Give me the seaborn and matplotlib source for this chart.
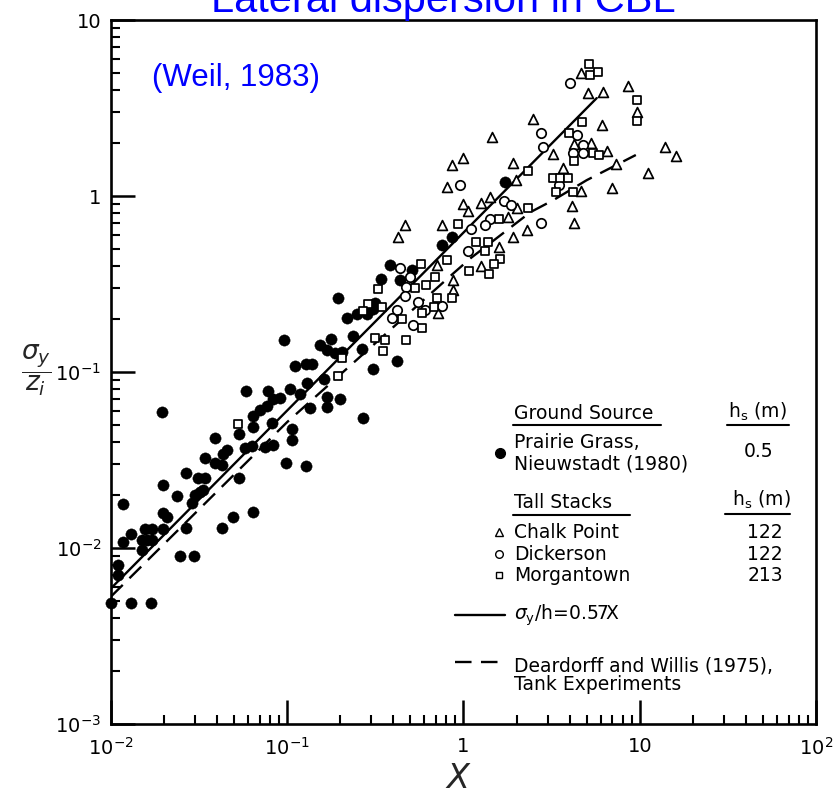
import matplotlib
matplotlib.use("Agg")
import matplotlib.pyplot as plt
import seaborn as sns
from matplotlib.lines import Line2D

# ---------------- data ----------------
# Prairie Grass, Nieuwstadt (1980) - filled dots
pg_x = [0.0100, 0.0130, 0.0169, 0.0110, 0.0110, 0.0117, 0.0130, 0.0150, 0.0150, 0.0160,
        0.0171, 0.0156, 0.0171, 0.0198, 0.0117, 0.0198, 0.0208, 0.0267, 0.0427, 0.0493,
        0.0641, 0.0247, 0.0296, 0.0198, 0.0237, 0.0300, 0.0320, 0.0333, 0.0289, 0.0267,
        0.0312, 0.0342, 0.0534, 0.0342, 0.0390, 0.0427, 0.0987, 0.128, 0.0390, 0.0456,
        0.0433, 0.0577, 0.0633, 0.0750, 0.0833, 0.0534, 0.0641, 0.0822, 0.107, 0.107,
        0.0195, 0.0585, 0.0780, 0.104, 0.118, 0.0770, 0.0833, 0.0913, 0.0703, 0.0641,
        0.130, 0.162, 0.169, 0.198, 0.135, 0.169, 0.270, 0.0961, 0.110, 0.127,
        0.139, 0.154, 0.176, 0.169, 0.187, 0.205, 0.237, 0.267, 0.308, 0.422,
        0.195, 0.219, 0.250, 0.285, 0.316, 0.308, 0.385, 0.513, 0.439, 0.342,
        0.760, 0.866, 1.73]
pg_y = [0.0049, 0.0049, 0.0049, 0.0080, 0.0070, 0.0108, 0.0120, 0.0097, 0.0111, 0.0111,
        0.0111, 0.0128, 0.0128, 0.0128, 0.0178, 0.0158, 0.0150, 0.0130, 0.0130, 0.0150,
        0.0160, 0.0090, 0.0090, 0.0228, 0.0198, 0.0200, 0.0208, 0.0214, 0.0180, 0.0267,
        0.0250, 0.0250, 0.0250, 0.0325, 0.0304, 0.0296, 0.0304, 0.0292, 0.0422, 0.0360,
        0.0342, 0.0370, 0.0380, 0.0375, 0.0385, 0.0444, 0.0487, 0.0513, 0.0474, 0.0411,
        0.0593, 0.0780, 0.0780, 0.0801, 0.0750, 0.0641, 0.0703, 0.0712, 0.0608, 0.0562,
        0.0866, 0.0913, 0.0721, 0.0703, 0.0624, 0.0633, 0.0548, 0.152, 0.108, 0.111,
        0.111, 0.142, 0.154, 0.133, 0.128, 0.130, 0.160, 0.135, 0.104, 0.116,
        0.263, 0.203, 0.214, 0.214, 0.247, 0.228, 0.406, 0.380, 0.333, 0.338,
        0.527, 0.585, 1.20]

# Chalk Point - open triangles
cp_x = [4.62, 5.06, 6.16, 8.55, 9.61, 6.08, 2.47, 1.46, 5.27, 4.22, 3.20, 6.49, 3.65,
        13.9, 16.0, 7.30, 11.1, 6.93, 1.92, 1.00, 0.866, 0.811, 4.62, 4.11, 4.22, 2.28,
        1.92, 1.42, 1.25, 1.00, 1.054, 2.00, 1.80, 0.760, 0.468, 0.427, 1.58, 1.25,
        0.712, 0.877, 0.877, 0.721, 1.98]
cp_y = [5.00, 3.85, 3.90, 4.22, 3.00, 2.53, 2.74, 2.16, 2.00, 1.98, 1.73, 1.80, 1.44,
        1.90, 1.69, 1.52, 1.35, 1.11, 1.54, 1.64, 1.50, 1.125, 1.07, 0.877, 0.702, 0.641,
        0.585, 0.987, 0.913, 0.901, 0.822, 0.855, 0.760, 0.684, 0.684, 0.585, 0.513, 0.400,
        0.406, 0.333, 0.292, 0.216, 1.23]

# Dickerson - open circles
dk_x = [4.00, 2.74, 4.39, 2.81, 4.74, 4.16, 4.74, 0.961, 3.47, 2.74, 1.69, 1.85, 1.42,
        1.10, 1.33, 1.054, 0.439, 0.500, 0.474, 0.468, 0.760, 0.555, 0.422, 0.395, 0.608,
        0.520]
dk_y = [4.39, 2.28, 2.22, 1.90, 1.95, 1.76, 1.76, 1.155, 1.155, 0.703, 0.937, 0.889, 0.740,
        0.649, 0.684, 0.487, 0.390, 0.347, 0.304, 0.270, 0.236, 0.250, 0.225, 0.203, 0.225,
        0.185]

# Morgantown - open squares
mg_x = [5.13, 5.20, 5.77, 9.61, 9.61, 4.68, 3.95, 5.41, 5.85, 4.22, 2.31, 3.20, 3.51,
        3.90, 3.33, 4.16, 2.31, 1.58, 0.925, 1.17, 1.37, 1.33, 1.62, 1.48, 1.068, 1.387,
        0.811, 0.577, 0.693, 0.616, 0.534, 0.866, 0.712, 0.329, 0.684, 0.585, 0.450, 0.585,
        0.474, 0.289, 0.270, 0.347, 0.316, 0.360, 0.351, 0.205, 0.195, 0.0527]
mg_y = [5.62, 4.87, 5.06, 3.51, 2.67, 2.63, 2.28, 1.76, 1.71, 1.58, 1.387, 1.266, 1.266,
        1.266, 1.054, 1.054, 0.855, 0.740, 0.693, 0.548, 0.548, 0.487, 0.439, 0.411, 0.375,
        0.360, 0.433, 0.411, 0.347, 0.312, 0.300, 0.263, 0.263, 0.296, 0.234, 0.216, 0.200,
        0.178, 0.152, 0.244, 0.222, 0.234, 0.156, 0.152, 0.132, 0.120, 0.0949, 0.0506]

# sigma_y/h = 0.57 X  (solid line)
fit_x = [0.01, 5.7]
fit_y = [0.0059, 3.6]

# Deardorff and Willis (1975) tank experiments (dashed)
dw_x = [0.01, 0.1, 0.88, 1.1, 2.4, 3.25, 5.0, 9.5]
dw_y = [0.0053, 0.052, 0.365, 0.444, 0.81, 0.95, 1.23, 1.71]

xtick_vals = [0.01, 0.1, 1, 10, 100]
xtick_labels = [r'$\mathregular{10^{-2}}$', r'$\mathregular{10^{-1}}$', '1', '10',
                r'$\mathregular{10^{2}}$']
ytick_vals = [0.001, 0.01, 0.1, 1, 10]
ytick_labels = [r'$\mathregular{10^{-3}}$', r'$\mathregular{10^{-2}}$',
                r'$\mathregular{10^{-1}}$', '1', '10']

# ---------------- figure ----------------
sns.set_style("white")
plt.rcParams['font.family'] = ['DejaVu Sans']
plt.rcParams['mathtext.fontset'] = 'dejavusans'

W, H = 837, 795
fig = plt.figure(figsize=(W / 100, H / 100), dpi=100)
ax = fig.add_axes([111 / W, 1 - 724 / H, 705 / W, 704 / H])


def P(x, y):
    return (x / W, 1 - y / H)


ax.set_xscale('log')
ax.set_yscale('log')

sns.lineplot(x=fit_x, y=fit_y, ax=ax, color='black', lw=1.7, estimator=None,
             sort=False, zorder=2)
sns.lineplot(x=dw_x, y=dw_y, ax=ax, color='black', lw=1.7, estimator=None,
             sort=False, zorder=2, dashes=False, linestyle=(0, (7, 4)))

sns.scatterplot(x=pg_x, y=pg_y, ax=ax, marker='o', s=66, color='black',
                edgecolor='black', linewidth=0.3, zorder=3, clip_on=False)
sns.scatterplot(x=cp_x, y=cp_y, ax=ax, marker='^', s=50, color='white',
                edgecolor='black', linewidth=1.25, zorder=3)
sns.scatterplot(x=dk_x, y=dk_y, ax=ax, marker='o', s=46, color='white',
                edgecolor='black', linewidth=1.25, zorder=3)
sns.scatterplot(x=mg_x, y=mg_y, ax=ax, marker='s', s=36, color='white',
                edgecolor='black', linewidth=1.25, zorder=3)

ax.set_xlim(0.01, 100)
ax.set_ylim(0.001, 10)
ax.set_xticks(xtick_vals)
ax.set_xticklabels(xtick_labels)
ax.set_yticks(ytick_vals)
ax.set_yticklabels(ytick_labels)
ax.tick_params(which='major', direction='in', length=17, width=1.8, labelsize=14,
               bottom=True, left=True, top=False, right=False,
               color='black', labelcolor='black')
ax.tick_params(axis='x', which='major', pad=9)
ax.tick_params(axis='y', which='major', pad=7)
ax.tick_params(which='minor', direction='in', length=6.5, width=1.5,
               bottom=True, left=True, top=False, right=False, color='black')
for sp in ax.spines.values():
    sp.set_linewidth(1.9)
    sp.set_color('black')
ax.grid(False)

ax.set_xlabel(r'$X$', fontsize=24)
ax.xaxis.set_label_coords((458 - 111) / 705, (724 - 762) / 704)
ax.set_ylabel(r'$\dfrac{\sigma_y}{z_i}$', fontsize=19, rotation=0, ha='center', va='center')
ax.yaxis.set_label_coords((36 - 111) / 705, (724 - 370) / 704)

# title (cut at top edge, as in the reference) and reference
fig.text(*P(443, 12), 'Lateral dispersion in CBL', ha='center', va='baseline',
         color='#0000ff', fontsize=30, family=['Liberation Sans'])
fig.text(*P(152, 86), '(Weil, 1983)', ha='left', va='baseline',
         color='#0000ff', fontsize=22.5, family=['Liberation Sans'])

# ---------------- hand-drawn legend table ----------------
fs = 13.5


def T(x, y, s, **kw):
    fig.text(*P(x, y), s, va='baseline', fontsize=fs, color='black', **kw)


def L(x0, x1, y, **kw):
    fig.add_artist(Line2D([x0 / W, x1 / W], [1 - y / H, 1 - y / H],
                          transform=fig.transFigure, color='black', **kw))


T(514, 419, 'Ground Source')
L(513, 661, 425, lw=1.5)
T(728, 418, r'h$_\mathregular{s}$ (m)')
L(727, 789, 425, lw=1.5)
T(514, 448, 'Prairie Grass,')
T(514, 469, 'Nieuwstadt (1980)')
T(759, 457, '0.5', ha='center')
fig.add_artist(Line2D([500 / W], [1 - 453 / H], transform=fig.transFigure,
                      marker='o', ms=7, color='black', ls='none'))

T(514, 508, 'Tall Stacks')
L(513, 630, 515, lw=1.5)
T(732, 506, r'h$_\mathregular{s}$ (m)')
L(725, 790, 514, lw=1.5)
for yy, name, val, mk, ms in [(538, 'Chalk Point', '122', '^', 6),
                              (560, 'Dickerson', '122', 'o', 5.5),
                              (581, 'Morgantown', '213', 's', 5)]:
    T(514, yy, name)
    T(783, yy, val, ha='right')
    fig.add_artist(Line2D([499 / W], [1 - (yy - 6) / H], transform=fig.transFigure,
                          marker=mk, ms=ms, mfc='white', mec='black', mew=1.0,
                          ls='none'))

L(455, 505, 615, lw=1.7)
T(514, 620, r'$\sigma_\mathregular{y}$/h=0.57X')
L(455, 505, 662, lw=1.7, ls=(0, (7, 4)))
T(514, 671, 'Deardorff and Willis (1975),')
T(514, 690, 'Tank Experiments')

fig.savefig('out.png', dpi=100)
